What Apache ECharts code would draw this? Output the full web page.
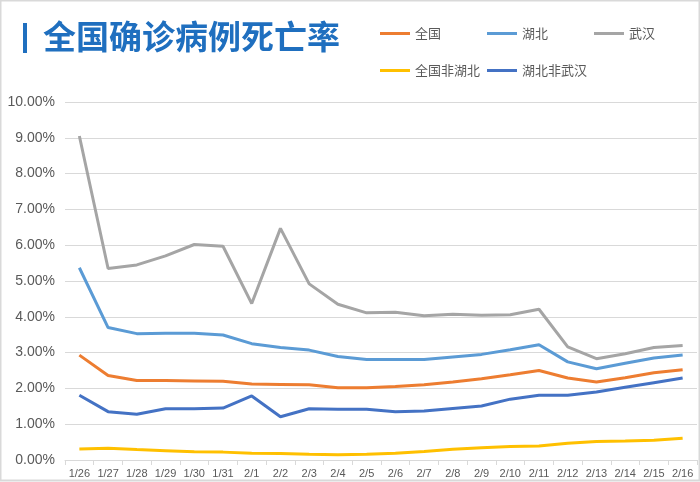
<!DOCTYPE html>
<html>
<head>
<meta charset="utf-8">
<script src="https://cdn.jsdelivr.net/npm/echarts@6/dist/echarts.min.js"></script>
<style>
  html, body { margin: 0; padding: 0; background: #fff; }
  #main { width: 700px; height: 482px; }
</style>
</head>
<body>
<div id="main"></div>
<script>
// 日期
var dates = ['1/26','1/27','1/28','1/29','1/30','1/31','2/1','2/2','2/3','2/4','2/5',
  '2/6','2/7','2/8','2/9','2/10','2/11','2/12','2/13','2/14','2/15','2/16'];

// 死亡率（%）
var quanguo = [2.93,2.36,2.22,2.22,2.21,2.20,2.12,2.11,2.10,2.02,2.02,
  2.05,2.10,2.18,2.27,2.38,2.50,2.29,2.18,2.30,2.44,2.52];
var hubei = [5.37,3.70,3.53,3.54,3.54,3.49,3.25,3.14,3.07,2.89,2.81,
  2.81,2.81,2.88,2.95,3.08,3.22,2.74,2.55,2.70,2.85,2.93];
var wuhan = [9.05,5.35,5.45,5.70,6.02,5.97,4.37,6.47,4.92,4.35,4.11,
  4.13,4.03,4.07,4.04,4.06,4.21,3.16,2.83,2.97,3.14,3.20];
var feiHubei = [0.31,0.33,0.29,0.26,0.23,0.22,0.19,0.18,0.16,0.15,0.16,
  0.19,0.24,0.30,0.34,0.38,0.39,0.47,0.52,0.53,0.55,0.61];
var hubeiFeiWuhan = [1.81,1.35,1.28,1.43,1.43,1.45,1.79,1.21,1.43,1.42,1.42,
  1.35,1.37,1.44,1.51,1.70,1.81,1.81,1.90,2.03,2.16,2.29];

var colors = ['#ED7D31','#5B9BD5','#A5A5A5','#FFC000','#4472C4'];

var myChart = echarts.init(document.getElementById('main'));

function line(name, data, c){
  return {
    name: name,
    type: 'line',
    data: data,
    symbol: 'none',
    lineStyle: { width: 3, color: c },
    itemStyle: { color: c }
  };
}

var legendText = { fontSize: 13, color: '#595959', fontFamily: 'Noto Sans CJK SC' };

var option = {
  animation: false,
  title: {
    text: '全国确诊病例死亡率',
    left: 38,
    top: 15,
    textStyle: { fontSize: 33, fontWeight: 'bold', color: '#1F6FBF', fontFamily: 'Noto Sans CJK SC' }
  },
  graphic: [
    { type: 'rect', shape: { x: 23, y: 23, width: 4, height: 30 }, style: { fill: '#1F6FBF' } },
    { type: 'rect', shape: { x: 0.5, y: 0.5, width: 699, height: 480 }, style: { fill: 'none', stroke: '#D9D9D9', lineWidth: 2 } }
  ],
  legend: [
    {
      data: ['全国','湖北','武汉'],
      left: 375, top: 22,
      icon: 'rect', itemWidth: 30, itemHeight: 3, itemGap: 46,
      textStyle: legendText
    },
    {
      data: ['全国非湖北','湖北非武汉'],
      left: 375, top: 59,
      icon: 'rect', itemWidth: 30, itemHeight: 3, itemGap: 7,
      textStyle: legendText
    }
  ],
  grid: { left: 65, right: 3, top: 102, bottom: 22 },
  xAxis: {
    type: 'category',
    data: dates,
    boundaryGap: true,
    axisLine: { lineStyle: { color: '#D9D9D9' } },
    axisTick: { show: true, alignWithLabel: false, lineStyle: { color: '#D9D9D9' } },
    axisLabel: { fontSize: 11, color: '#595959', margin: 8, interval: 0, fontFamily: 'Liberation Sans' }
  },
  yAxis: {
    type: 'value',
    min: 0, max: 10, interval: 1,
    axisLine: { show: false },
    axisTick: { show: false },
    splitLine: { lineStyle: { color: '#D9D9D9' } },
    axisLabel: {
      fontSize: 14, color: '#595959', margin: 10, fontFamily: 'Liberation Sans',
      formatter: function(v){ return v.toFixed(2) + '%'; }
    }
  },
  series: [
    line('全国', quanguo, colors[0]),
    line('湖北', hubei, colors[1]),
    line('武汉', wuhan, colors[2]),
    line('全国非湖北', feiHubei, colors[3]),
    line('湖北非武汉', hubeiFeiWuhan, colors[4])
  ]
};

myChart.setOption(option);
</script>
</body>
</html>
